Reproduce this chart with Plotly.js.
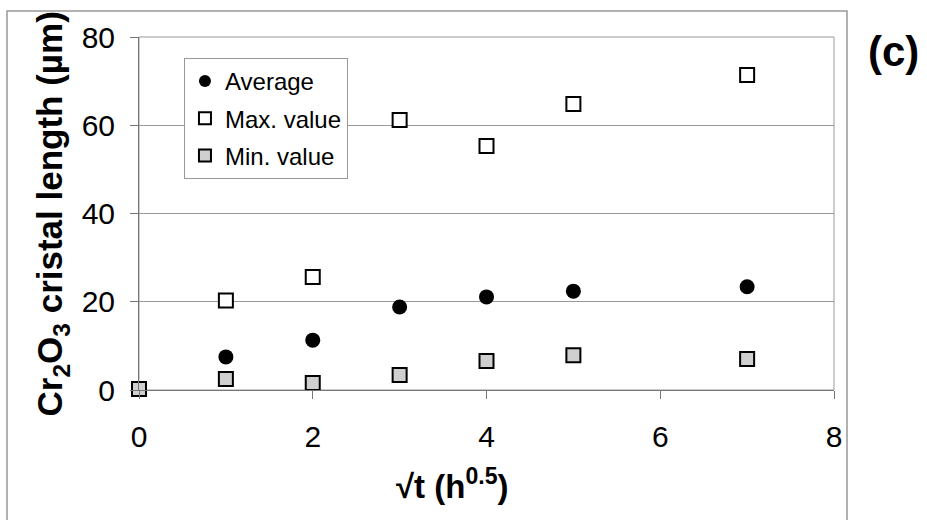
<!DOCTYPE html>
<html><head><meta charset="utf-8">
<script src="https://cdn.plot.ly/plotly-3.0.1.min.js"></script>
<style>html,body{margin:0;padding:0;background:#fff}</style>
</head><body><div id="chart" style="width:927px;height:520px"></div>
<script>
const xAvg = [1, 2, 3, 4, 5, 7];
const yAvg = [7.5, 11.3, 18.8, 21.1, 22.4, 23.4];
const xMax = [1, 2, 3, 4, 5, 7];
const yMax = [20.3, 25.6, 61.2, 55.3, 64.8, 71.4];
const xMin = [0, 1, 2, 3, 4, 5, 7];
const yMin = [0.2, 2.5, 1.6, 3.4, 6.6, 7.9, 7.0];
const xTicks = [0, 2, 4, 6, 8];
const yTicks = [0, 20, 40, 60, 80];

const traces = [
  {x: xAvg, y: yAvg, name: 'Average', mode: 'markers', type: 'scatter', legendgroup: 'a', cliponaxis: false,
   marker: {symbol: 'circle', size: 15, color: '#000', line: {width: 0}}},
  {x: xMax, y: yMax, name: 'Max. value', mode: 'markers', type: 'scatter', legendgroup: 'b', cliponaxis: false,
   marker: {symbol: 'square', size: 14, color: '#fff', line: {width: 2, color: '#000'}}},
  {x: xMin, y: yMin, name: 'Min. value', mode: 'markers', type: 'scatter', legendgroup: 'c', cliponaxis: false,
   marker: {symbol: 'square', size: 14, color: '#cfcfcf', line: {width: 2, color: '#000'}}}
];

const layout = {
  width: 927, height: 520,
  margin: {l: 139, r: 93, t: 37, b: 130},
  paper_bgcolor: '#fff', plot_bgcolor: '#fff',
  font: {family: 'Liberation Sans, Arial, sans-serif', color: '#000'},
  showlegend: true,
  legend: {x: 0.0647, y: 0.9405, xanchor: 'left', yanchor: 'top',
    bordercolor: '#999', borderwidth: 1, bgcolor: '#fff',
    font: {size: 24, family: 'Liberation Sans, Arial, sans-serif'}, itemsizing: 'constant',
    traceorder: 'grouped', tracegroupgap: 3, itemwidth: 30},
  xaxis: {range: [0, 8], tickvals: xTicks, ticktext: xTicks.map(String),
    showgrid: false, zeroline: false, showline: true, linecolor: '#777', linewidth: 1,
    ticks: 'outside', ticklen: 8, tickcolor: '#777', tickfont: {size: 30}, ticklabelstandoff: 12},
  yaxis: {range: [0, 80], tickvals: yTicks, ticktext: yTicks.map(String),
    showgrid: true, gridcolor: '#999', gridwidth: 1, zeroline: false,
    showline: true, linecolor: '#777', linewidth: 1,
    ticks: 'outside', ticklen: 8, tickcolor: '#777', tickfont: {size: 30}, ticklabelstandoff: 9},
  shapes: [
    {type: 'rect', xref: 'paper', yref: 'paper', x0: 0, x1: 1, y0: 0, y1: 1,
     line: {color: '#999', width: 1}, fillcolor: 'rgba(0,0,0,0)', layer: 'below'},
    {type: 'path', xref: 'paper', yref: 'paper',
     path: 'M -0.1899,-0.3683 L -0.1899,1.0737 L 1.0187,1.0737 L 1.0187,-0.3683',
     line: {color: '#999', width: 1.5}}
  ],
  annotations: [
    {text: '<b>Cr<sub>2</sub>O<sub>3</sub> cristal length (µm)</b>', xref: 'paper', yref: 'paper',
     x: -0.1252, y: 0.5, textangle: -90, xanchor: 'center', yanchor: 'middle', showarrow: false,
     font: {size: 35}},
    {text: '<b>√t (h<sup>0.5</sup>)</b>', xref: 'paper', yref: 'paper',
     x: 0.4504, y: -0.2663, xanchor: 'center', yanchor: 'middle', showarrow: false,
     font: {size: 33}},
    {text: '<b>(c)</b>', xref: 'paper', yref: 'paper', x: 1.0863, y: 0.960,
     xanchor: 'center', yanchor: 'middle', showarrow: false, font: {size: 42}}
  ]
};
Plotly.newPlot('chart', traces, layout, {displayModeBar: false});
</script></body></html>
